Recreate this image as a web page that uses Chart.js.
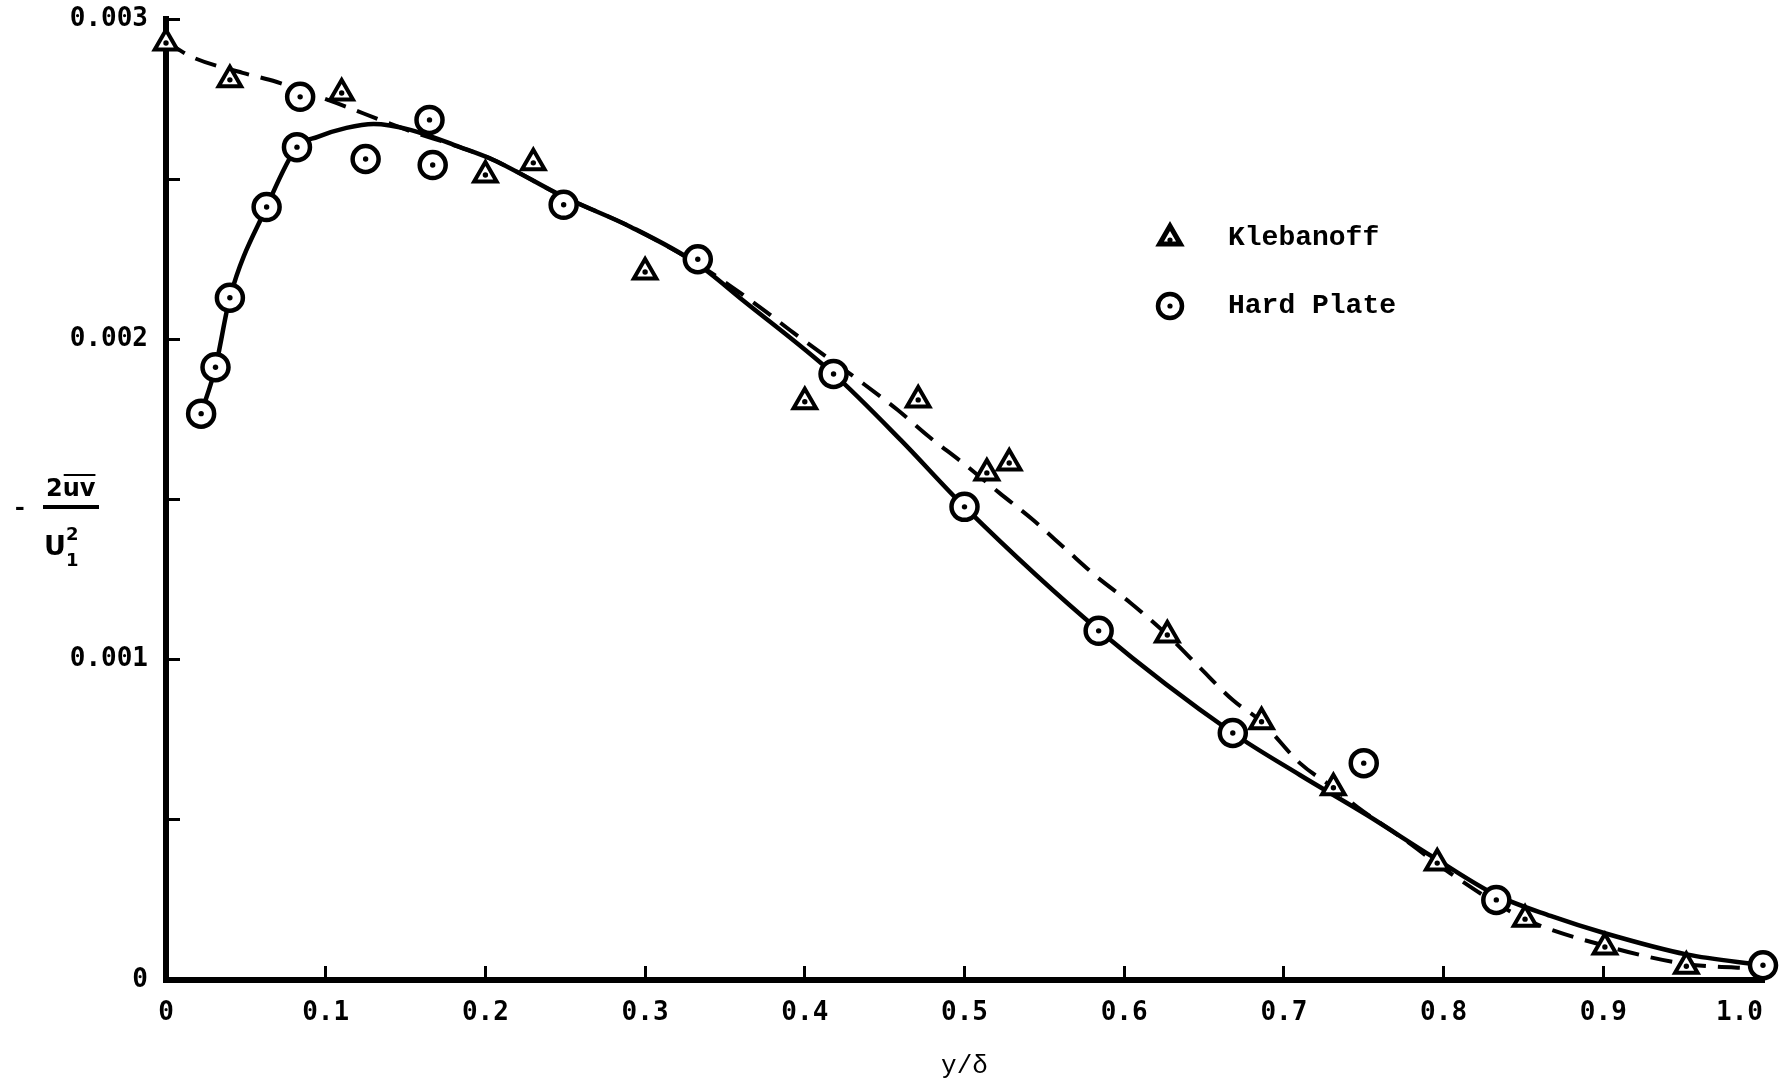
<!DOCTYPE html>
<html>
<head>
<meta charset="utf-8">
<script src="https://cdn.jsdelivr.net/npm/chart.js@4.4.1/dist/chart.umd.min.js"></script>
<style>
    html, body { margin: 0; padding: 0; background: #fff; }
</style>
</head>
<body>
<canvas id="stress-chart" width="1782" height="1085"></canvas>
<script>
(function () {
    "use strict";

    // Measured points (y/delta, -2uv/U1^2)
    var klebX = [0, 0.040, 0.110, 0.200, 0.230, 0.300, 0.400, 0.471, 0.514, 0.528, 0.627, 0.686, 0.731, 0.796, 0.851, 0.901, 0.952];
    var klebY = [0.002925, 0.00281, 0.002769, 0.002513, 0.002551, 0.00221, 0.001805, 0.001811, 0.001583, 0.001614, 0.001077, 0.000806, 0.00060, 0.000365, 0.00019, 0.000103, 0.000043];

    var plateX = [0.022, 0.031, 0.040, 0.063, 0.082, 0.084, 0.125, 0.165, 0.167, 0.249, 0.333, 0.418, 0.500, 0.584, 0.668, 0.750, 0.833, 1.0];
    var plateY = [0.001768, 0.001913, 0.00213, 0.002413, 0.00260, 0.002757, 0.002563, 0.002685, 0.002544, 0.00242, 0.00225, 0.001892, 0.001477, 0.00109, 0.000771, 0.000677, 0.00025, 0.000046];

    // Faired curves
    var klebFitX = [0, 0.016, 0.048, 0.069, 0.096, 0.113, 0.134, 0.153, 0.184, 0.205, 0.249, 0.291, 0.332, 0.372, 0.393, 0.436, 0.458, 0.478, 0.499, 0.522, 0.543, 0.564, 0.583, 0.604, 0.627, 0.647, 0.668, 0.686, 0.710, 0.731, 0.746, 0.775, 0.804, 0.851, 0.901, 0.952, 1.0];
    var klebFitY = [0.00293, 0.002882, 0.002832, 0.002804, 0.002757, 0.002726, 0.002685, 0.00265, 0.00260, 0.00256, 0.002445, 0.002351, 0.002238, 0.00210, 0.00202, 0.001864, 0.00178, 0.001695, 0.001614, 0.00152, 0.001436, 0.001342, 0.001258, 0.001177, 0.001077, 0.000977, 0.000874, 0.000806, 0.000677, 0.00060, 0.00054, 0.00044, 0.000334, 0.00019, 0.000107, 0.00005, 0.000035];

    var plateFitX = [0.022, 0.031, 0.040, 0.063, 0.082, 0.095, 0.113, 0.130, 0.153, 0.184, 0.205, 0.249, 0.291, 0.332, 0.361, 0.418, 0.46, 0.50, 0.585, 0.668, 0.710, 0.752, 0.793, 0.833, 0.867, 0.901, 0.952, 1.0];
    var plateFitY = [0.001768, 0.001913, 0.00213, 0.002413, 0.00260, 0.002632, 0.00266, 0.002672, 0.002654, 0.00260, 0.00256, 0.002445, 0.002351, 0.002238, 0.002123, 0.001892, 0.001686, 0.001477, 0.001088, 0.000771, 0.00064, 0.000515, 0.000385, 0.000265, 0.0002, 0.000146, 0.00008, 0.000046];

    // last label padded so it ends at the tick, as in the figure
    var xTickLabels = ["0", "0.1", "0.2", "0.3", "0.4", "0.5", "0.6", "0.7", "0.8", "0.9", "1.0   "];
    var yTickLabels = { 0: "0", 10: "0.001", 20: "0.002", 30: "0.003" };

    var seriesNames = ["Klebanoff", "Hard Plate"];

    function pairs(xs, ys) {
        return xs.map(function (x, i) { return { x: x, y: ys[i] }; });
    }

    var tickFont = { family: "'DejaVu Sans Mono', monospace", size: 26, weight: "bold" };
    var textFont = "'Liberation Mono', 'DejaVu Sans Mono', monospace";

    // Y title and legend, drawn on top
    var extras = {
        id: "extras",
        afterDraw: function (chart) {
            var ctx = chart.ctx;
            ctx.save();
            ctx.fillStyle = "#000";
            ctx.strokeStyle = "#000";
            ctx.textBaseline = "middle";
            ctx.textAlign = "left";

            // - 2uv / U1^2
            ctx.font = "bold 26px " + textFont;
            ctx.fillText("-", 12, 508);
            ctx.font = "bold 24px 'DejaVu Sans'";
            ctx.fillText("2uv", 46, 490);
            var w2 = ctx.measureText("2").width;
            var wAll = ctx.measureText("2uv").width;
            ctx.lineWidth = 2;
            ctx.beginPath();
            ctx.moveTo(46 + w2 + 1, 475);
            ctx.lineTo(46 + wAll, 475);
            ctx.stroke();
            ctx.lineWidth = 4;
            ctx.beginPath();
            ctx.moveTo(43, 507);
            ctx.lineTo(99, 507);
            ctx.stroke();
            ctx.font = "bold 27px 'DejaVu Sans'";
            ctx.fillText("U", 44, 548);
            ctx.font = "bold 18px 'DejaVu Sans'";
            ctx.fillText("2", 66, 535);
            ctx.fillText("1", 66, 561);

            // legend
            var legendX = 1170, legendY = [238, 306];
            var styles = [
                { pointStyle: "triangle", radius: 12, borderWidth: 5 },
                { pointStyle: "circle", radius: 12, borderWidth: 4.5 }
            ];
            seriesNames.forEach(function (name, i) {
                ctx.fillStyle = "#fff";
                ctx.strokeStyle = "#000";
                ctx.lineWidth = styles[i].borderWidth;
                Chart.helpers.drawPoint(ctx, styles[i], legendX, legendY[i]);
                ctx.fillStyle = "#000";
                ctx.beginPath();
                ctx.arc(legendX, legendY[i] + (i === 0 ? 2 : 0), 2.6, 0, Math.PI * 2);
                ctx.fill();
                ctx.font = "bold 28px " + textFont;
                ctx.fillText(name, 1228, legendY[i]);
            });
            ctx.restore();
        }
    };

    var ctx = document.getElementById("stress-chart").getContext("2d");
    var myChart = new Chart(ctx, {
        type: "scatter",
        data: {
            datasets: [{
                    label: seriesNames[0] + " fit",
                    data: pairs(klebFitX, klebFitY),
                    showLine: true,
                    borderColor: "#000",
                    borderWidth: 4,
                    borderDash: [22, 12],
                    pointRadius: 0,
                    cubicInterpolationMode: "monotone",
                    order: 5
                },
                {
                    label: seriesNames[1] + " fit",
                    data: pairs(plateFitX, plateFitY),
                    showLine: true,
                    borderColor: "#000",
                    borderWidth: 4.5,
                    pointRadius: 0,
                    cubicInterpolationMode: "monotone",
                    order: 4
                },
                {
                    label: seriesNames[0],
                    data: pairs(klebX, klebY),
                    pointStyle: "triangle",
                    pointRadius: 13,
                    pointBorderWidth: 4,
                    pointBackgroundColor: "#fff",
                    pointBorderColor: "#000",
                    order: 3
                },
                {
                    label: seriesNames[1],
                    data: pairs(plateX, plateY),
                    pointStyle: "circle",
                    pointRadius: 13,
                    pointBorderWidth: 4.5,
                    pointBackgroundColor: "#fff",
                    pointBorderColor: "#000",
                    order: 2
                },
                {
                    label: "dots",
                    data: pairs(klebX, klebY).concat(pairs(plateX, plateY)),
                    pointStyle: "circle",
                    pointRadius: 2.7,
                    pointBorderWidth: 0,
                    pointBackgroundColor: "#000",
                    order: 1
                }
            ]
        },
        options: {
            responsive: false,
            animation: false,
            clip: false,
            layout: { padding: { top: 19, right: 19, left: 0, bottom: 0 } },
            plugins: {
                legend: { display: false },
                tooltip: { enabled: false }
            },
            scales: {
                x: {
                    type: "linear",
                    min: 0,
                    max: 1.0,
                    afterFit: function (scale) {
                        scale.height = 105;
                        scale.paddingLeft = 0;
                        scale.paddingRight = 0;
                    },
                    border: { display: true, color: "#000", width: 6 },
                    grid: { drawOnChartArea: false, drawTicks: true, tickLength: -14, tickWidth: 3, color: "#000" },
                    ticks: {
                        stepSize: 0.1,
                        padding: 32,
                        color: "#000",
                        font: tickFont,
                        maxRotation: 0,
                        callback: function (v) { return xTickLabels[Math.round(v * 10)]; }
                    },
                    title: {
                        display: true,
                        text: "y/δ",
                        color: "#000",
                        font: { family: textFont, size: 26 },
                        padding: { top: 0, bottom: 3 }
                    }
                },
                y: {
                    type: "linear",
                    min: 0,
                    max: 0.003,
                    afterFit: function (scale) {
                        scale.width = 166;
                        scale.paddingTop = 0;
                        scale.paddingBottom = 0;
                    },
                    border: { display: true, color: "#000", width: 6 },
                    grid: { drawOnChartArea: false, drawTicks: true, tickLength: -14, tickWidth: 3, color: "#000" },
                    ticks: {
                        stepSize: 0.0005,
                        padding: 32,
                        color: "#000",
                        font: tickFont,
                        callback: function (v) {
                            var k = Math.round(v * 10000);
                            return yTickLabels[k] !== undefined ? yTickLabels[k] : "";
                        }
                    }
                }
            }
        },
        plugins: [extras]
    });
})();
</script>
</body>
</html>
